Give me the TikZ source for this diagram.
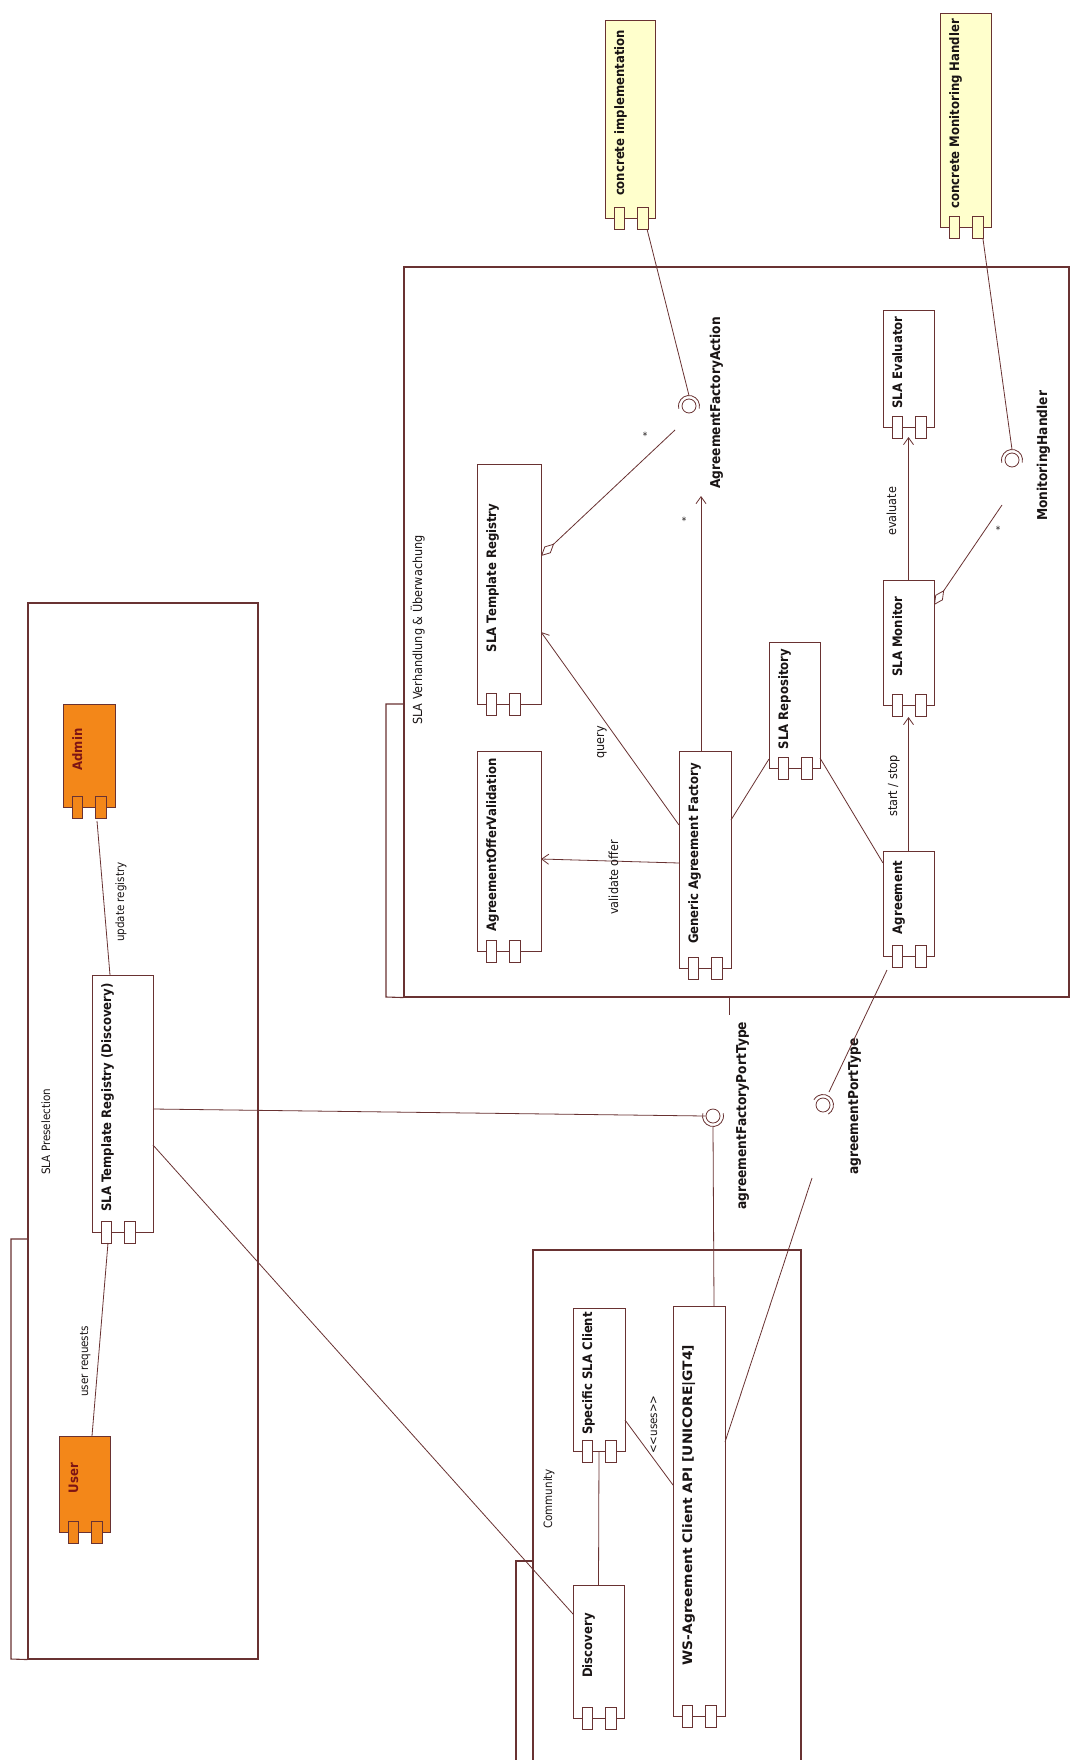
\documentclass[tikz,border=0pt]{standalone}
\usepackage{fontspec}
\usepackage{graphicx}
\setmainfont{DejaVu Sans}[FakeStretch=0.9]
\usetikzlibrary{arrows.meta,calc}
\definecolor{ink}{RGB}{105,50,50}
\definecolor{txt}{RGB}{25,20,20}
\definecolor{orangefill}{RGB}{243,135,25}
\definecolor{orangetext}{RGB}{125,20,20}
\definecolor{yellowfill}{RGB}{255,255,204}
\tikzset{
  compbox/.style={draw=ink, line width=0.9pt, inner sep=0pt, outer sep=0pt},
  comptext/.style={font=\fontsize{13}{16}\selectfont\bfseries, inner sep=0pt},
  pkgline/.style={draw=ink, line width=1.1pt},
  conn/.style={draw=ink, line width=0.8pt},
  openarrow/.style={-{Straight Barb[length=7pt,width=10pt,line width=0.8pt]}},
  aggr/.style={{Diamond[open,length=18pt,width=9pt,line width=0.8pt]}-},
  lbl/.style={font=\fontsize{12.5}{15}\selectfont, text=txt, inner sep=0pt, rotate=90, anchor=base west},
  smalllbl/.style={font=\fontsize{11.5}{14}\selectfont, text=txt, inner sep=0pt, rotate=90, anchor=base west},
  iflbl/.style={font=\fontsize{13.6}{16}\selectfont\bfseries, text=txt, inner sep=0pt, rotate=90, anchor=base west},
  ball/.style={circle, draw=ink, line width=0.8pt, fill=white, minimum size=14pt, inner sep=0pt},
  mult/.style={font=\fontsize{10}{12}\selectfont, text=txt, inner sep=0pt},
}
% #1 name, #2 left, #3 top, #4 right, #5 bottom, #6 text, #7 fill, #8 text colour
\newcommand{\umlcomp}[8]{%
  \node[compbox, fill=#7, minimum width={(#4)-(#2)}, minimum height={(#5)-(#3)}] (#1) at ({((#2)+(#4))/2},{-((#3)+(#5))/2}) {};
  \draw[compbox, fill=#7] ({(#2)+9},{-(#5)+11}) rectangle ({(#2)+19},{-(#5)-11});
  \draw[compbox, fill=#7] ({(#2)+32},{-(#5)+11}) rectangle ({(#2)+43},{-(#5)-11});
  \node[comptext, text=#8, anchor=base, rotate=90] (#1-t) at ({(#2)+19},{-((#3)+(#5)-12)/2}) {#6};
}
\begin{document}
\begin{tikzpicture}[x=1pt,y=1pt]
\fill[white] (0,0) rectangle (1072,-1760);
\useasboundingbox (0,0) rectangle (1072,-1760);

% ---------- packages ----------
\node[draw=ink, line width=1.1pt, inner sep=0pt, minimum width=230, minimum height=1056] (pre) at (143,-1131) {};
\draw[pkgline] (pre.west |- 0,-1239) -- (11,-1239) -- (11,-1659) -- (pre.south west);
\node[smalllbl] (pre-t) at (50,-1175) {SLA Preselection};

\node[draw=ink, line width=1.1pt, inner sep=0pt, minimum width=665, minimum height=730] (neg) at (736.5,-632) {};
\draw[pkgline] (neg.west |- 0,-704) -- (386,-704) -- (386,-997) -- (neg.south west);
\node[lbl] (neg-t) at (422,-725) {SLA Verhandlung \& Überwachung};

\coordinate (comTL) at (533,-1250);
\coordinate (comTR) at (801,-1250);
\draw[pkgline] (533,-1775) -- (comTL) -- (comTR) -- (801,-1775);
\draw[pkgline] (533,-1561) -- (516,-1561) -- (516,-1775);
\node[smalllbl] (com-t) at (552,-1529) {Community};

% ---------- components ----------
\umlcomp{admin}{63}{704}{115}{807}{Admin}{orangefill}{orangetext}
\umlcomp{user}{59}{1436}{110}{1532}{User}{orangefill}{orangetext}
\umlcomp{regd}{92}{975}{153}{1232}{SLA Template Registry (Discovery)}{white}{txt}
\umlcomp{aov}{477}{751}{541}{951}{AgreementOfferValidation}{white}{txt}
\umlcomp{str}{477}{464}{541}{704}{SLA Template Registry}{white}{txt}
\umlcomp{gaf}{679}{751}{731}{968}{Generic Agreement Factory}{white}{txt}
\umlcomp{srep}{769}{642}{820}{768}{SLA Repository}{white}{txt}
\umlcomp{agr}{883}{851}{934}{956}{Agreement}{white}{txt}
\umlcomp{mon}{883}{580}{934}{705}{SLA Monitor}{white}{txt}
\umlcomp{eval}{883}{310}{934}{427}{SLA Evaluator}{white}{txt}
\umlcomp{ci}{605}{20}{655}{218}{concrete implementation}{yellowfill}{txt}
\umlcomp{cmh}{940}{13}{991}{227}{concrete Monitoring Handler}{yellowfill}{txt}
\umlcomp{ssc}{573}{1308}{625}{1451}{Specific SLA Client}{white}{txt}
\umlcomp{disc}{573}{1585}{624}{1718}{Discovery}{white}{txt}
\umlcomp{ws}{673}{1306}{725}{1716}{\scalebox{1.18}[1]{WS-Agreement Client API [UNICORE|GT4]}}{white}{txt}

% ---------- interfaces ----------
\node[ball] (afa) at (689,-406) {};
\draw[conn] ([shift={(-15:10.5)}]afa.center) arc[start angle=-15, end angle=195, radius=10.5];
\node[iflbl] (afa-t) at (720,-489) {AgreementFactoryAction};

\node[ball] (mh) at (1012,-460) {};
\draw[conn] ([shift={(-15:10.5)}]mh.center) arc[start angle=-15, end angle=195, radius=10.5];
\node[iflbl] (mh-t) at (1047,-521) {MonitoringHandler};

\node[ball] (afpt) at (713,-1116) {};
\draw[conn] ([shift={(165:10.5)}]afpt.center) arc[start angle=165, end angle=375, radius=10.5];
\node[iflbl] (afpt-t) at (746,-1210) {agreementFactoryPortType};

\node[ball] (apt) at (823,-1105) {};
\draw[conn] ([shift={(-60:10.5)}]apt.center) arc[start angle=-60, end angle=150, radius=10.5];
\node[iflbl] (apt-t) at (858,-1175) {agreementPortType};

\coordinate (aptend) at (812,-1178);
\coordinate (afatip) at (701,-496);
\coordinate (stubtop) at (729,-997);
\coordinate (stubbot) at (729,-1015);

% ---------- connectors ----------
\draw[conn] ([shift={(34,-14)}]admin.south west) -- ([xshift=-12.5]regd.north);
\draw[conn] ([xshift=7.5]user.north) -- ([shift={(-14.5,-11)}]regd.south);
\draw[conn] ([yshift=-5.5]regd.east) -- (afpt.west);
\draw[conn] ([yshift=-41.5]regd.east) -- ([yshift=37.5]disc.west);
\draw[conn] (disc.north) -- (ssc.south);
\draw[conn] ([yshift=-40.5]ssc.east) -- ([yshift=26]ws.west);
\draw[conn] ([xshift=15]ws.north) -- ([yshift=-10.5]afpt.center);
\draw[conn] ([yshift=69]ws.east) -- (aptend);
\draw[conn] ([shift={(4,-14)}]agr.south west) -- ([shift={(6,13)}]apt.center);
\draw[conn] (stubtop) -- (stubbot);

\draw[conn,openarrow] ([yshift=-3.5]gaf.west) -- ([yshift=-8]aov.east);
\draw[conn,openarrow] ([yshift=34.5]gaf.west) -- ([yshift=-48]str.east);
\draw[conn,openarrow] ([xshift=-4]gaf.north) -- (afatip);
\draw[conn,aggr] ([yshift=28]str.east) -- ([shift={(-14,-24)}]afa.center);
\draw[conn] ([yshift=39.5]gaf.east) -- ([yshift=-54]srep.west);
\draw[conn] ([yshift=-53]srep.east) -- ([yshift=40.5]agr.west);
\draw[conn,openarrow] (agr.north) -- ([yshift=-12]mon.south);
\draw[conn,openarrow] (mon.north) -- ([yshift=-10]eval.south);
\draw[conn,aggr] ([yshift=37.5]mon.east) -- ([shift={(-10,-45)}]mh.center);
\draw[conn] ([shift={(-8,-11)}]ci.south east) -- ([yshift=10.5]afa.center);
\draw[conn] ([shift={(-8,-12)}]cmh.south east) -- ([yshift=10.5]mh.center);

% ---------- connector labels ----------
\node[smalllbl] (l-upd) at (124,-942) {update registry};
\node[smalllbl] (l-usr) at (88,-1397) {user requests};
\node[lbl] (l-val) at (618,-915) {validate offer};
\node[lbl] (l-qry) at (604,-759) {query};
\node[lbl] (l-ss) at (897,-817) {start / stop};
\node[lbl] (l-ev) at (896,-536) {evaluate};
\node[smalllbl] (l-uses) at (657,-1454) {\char"3C\kern0pt\char"3C uses\char"3E\kern0pt\char"3E};
\node[mult] (m1) at (684,-521) {*};
\node[mult] (m2) at (645,-436) {*};
\node[mult] (m3) at (998,-530) {*};
\end{tikzpicture}
\end{document}
